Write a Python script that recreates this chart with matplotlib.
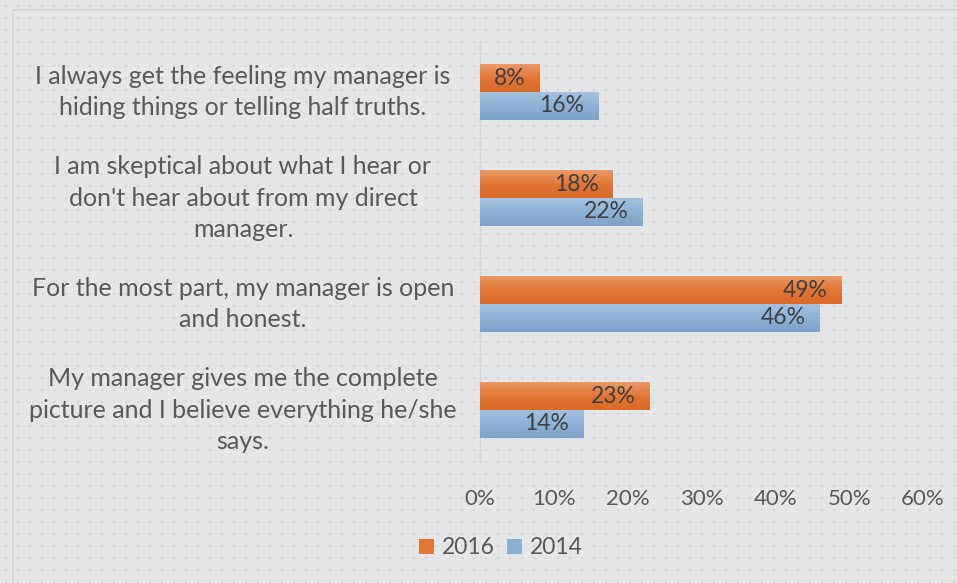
import numpy as np
import matplotlib
matplotlib.use("Agg")
import matplotlib.pyplot as plt
from matplotlib.colors import LinearSegmentedColormap
import matplotlib.transforms as mtransforms

plt.rcParams['font.family'] = ['Lato', 'DejaVu Sans']

categories = [
    "I always get the feeling my manager is\nhiding things or telling half truths.",
    "I am skeptical about what I hear or\ndon't hear about from my direct\nmanager.",
    "For the most part, my manager is open\nand honest.",
    "My manager gives me the complete\npicture and I believe everything he/she\nsays.",
]
series_names = ["2016", "2014"]
values_2016 = [8, 18, 49, 23]
values_2014 = [16, 22, 46, 14]
xticks = [0, 10, 20, 30, 40, 50, 60]
xtick_labels = ["0%", "10%", "20%", "30%", "40%", "50%", "60%"]

ORANGE = "#e07636"
BLUE = "#8cafd4"
BG = "#e4e5e6"
TEXT = "#595959"

fig = plt.figure(figsize=(9.57, 5.83), dpi=100, facecolor=BG)

# dotted background texture
bg = fig.add_axes([0, 0, 1, 1], zorder=-10)
H, W = 583, 957
tex = np.full((H, W, 3), np.array([0xe4, 0xe5, 0xe6]) / 255.0)
yy, xx = np.mgrid[0:H, 0:W]
mask = ((yy - 5) % 12 < 2) & ((xx - 5) % 12 < 2)
tex[mask] = np.array([0xd2, 0xd3, 0xd5]) / 255.0
bg.imshow(tex, extent=[0, 1, 0, 1], aspect='auto', interpolation='nearest')
bg.add_patch(plt.Rectangle((13 / W, -0.1), 1.2, 1 - 10 / H + 0.1, fill=False,
                           edgecolor="#d2d3d4", linewidth=1.2, transform=bg.transAxes))
bg.set_axis_off()

ax = fig.add_axes([480 / 957, 1 - 463 / 583, 443 / 957, 424 / 583])
ax.patch.set_alpha(0)

n = len(categories)
y = np.arange(n)
h = 0.26
bars16 = ax.barh(y - h / 2, values_2016, height=h, color=ORANGE, label=series_names[0], zorder=3)
bars14 = ax.barh(y + h / 2, values_2014, height=h, color=BLUE, label=series_names[1], zorder=3)

def gradient(bars, top, mid, bot):
    cmap = LinearSegmentedColormap.from_list("g", [top, mid, bot])
    grad = np.linspace(0, 1, 64).reshape(-1, 1)
    for b in bars:
        x0, y0, w, hh = b.get_x(), b.get_y(), b.get_width(), b.get_height()
        im = ax.imshow(grad, cmap=cmap, aspect='auto', extent=[x0, x0 + w, y0 + hh, y0],
                       zorder=4, interpolation='bicubic')
        im.set_clip_path(b)

gradient(bars16, "#eb9a68", "#e07636", "#d96a2a")
gradient(bars14, "#a4c0de", "#8fb1d6", "#7ea2c8")

ax.set_xlim(0, 60)
ax.set_ylim(n - 0.5, -0.5)
ax.set_xticks(xticks)
ax.set_xticklabels(xtick_labels, fontsize=16, color=TEXT)
ax.tick_params(axis='x', length=0, pad=19)
ax.set_yticks([])
for s in ["top", "right", "bottom"]:
    ax.spines[s].set_visible(False)
ax.spines["left"].set_color("#d4d5d6")
ax.spines["left"].set_linewidth(1.0)

# data labels inside end
for bars, vals in ((bars16, values_2016), (bars14, values_2014)):
    for b, v in zip(bars, vals):
        ax.annotate(f"{v}%", xy=(v, b.get_y() + b.get_height() / 2),
                    xytext=(-10, 0), textcoords="offset points", ha="right", va="center",
                    fontsize=16.5, color="#404040", zorder=6)

# category labels, centered block
trans = mtransforms.blended_transform_factory(fig.transFigure, ax.transData)
for i, c in enumerate(categories):
    ax.text(243 / 957, i, c, transform=trans, ha="center", va="center",
            multialignment="center", fontsize=18, color=TEXT, linespacing=1.45)

leg = fig.legend(handles=[bars16, bars14], labels=series_names, loc="center",
                 bbox_to_anchor=(501 / 957, 1 - 548 / 583), ncol=2, frameon=False,
                 fontsize=16.5, labelcolor=TEXT, handlelength=0.65, handleheight=0.65,
                 handletextpad=0.35, columnspacing=0.5)

fig.savefig("out.png", dpi=100, facecolor=BG)
